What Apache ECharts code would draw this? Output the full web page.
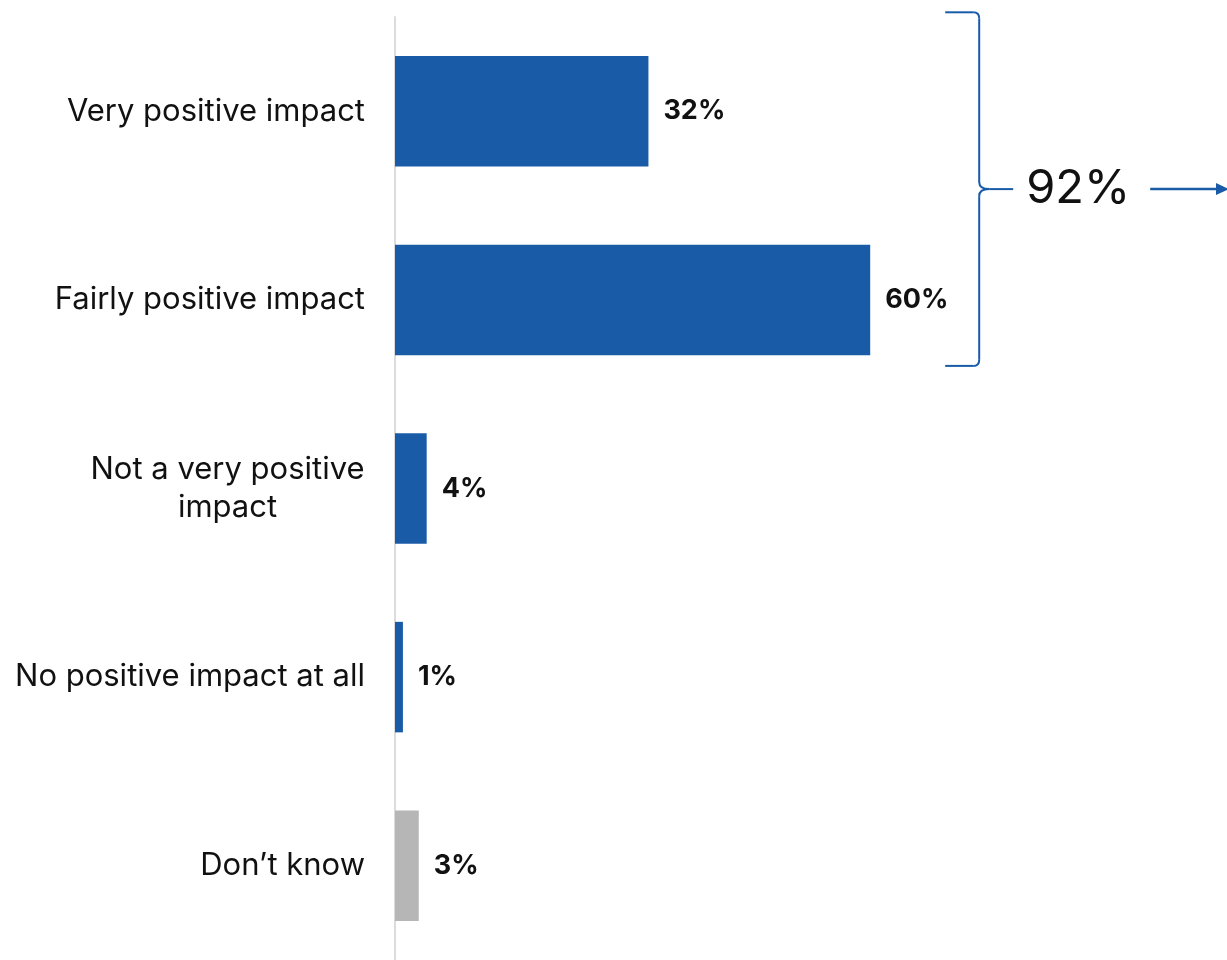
<!DOCTYPE html>
<html>
<head>
<meta charset="utf-8">
<script src="https://cdn.jsdelivr.net/npm/echarts@6/dist/echarts.min.js"></script>
<style>
  html, body { margin: 0; padding: 0; background: #ffffff; }
  #chart { width: 1227px; height: 960px; }
</style>
</head>
<body>
<div id="chart"></div>
<script>
// Survey answers, top to bottom
const categories = [
  'Very positive impact',
  'Fairly positive impact',
  'Not a very positive\nimpact',
  'No positive impact at all',
  'Don\u2019t know'
];
const values = [32, 60, 4, 1, 3];
// answers grouped under the bracket
const groupedIdx = [0, 1];

const BLUE = '#1a5ba8';
const GREY = '#b6b6b6';
const FONT = 'Inter, "Open Sans", sans-serif';

const catFont = 31;
const canvas = document.createElement('canvas');
const ctx = canvas.getContext('2d');
ctx.font = catFont + 'px ' + FONT;

// multi-line labels are centred within their own block, block right-aligned to the axis
function catFormatter(v) {
  const lines = v.split('\n');
  if (lines.length === 1) return v;
  return lines.map(l => '{c|' + l + '}').join('\n');
}
function catRich() {
  let w = 0;
  categories.forEach(c => {
    const ls = c.split('\n');
    if (ls.length > 1) ls.forEach(l => { w = Math.max(w, ctx.measureText(l).width); });
  });
  return { c: { width: Math.ceil(w), align: 'center', fontSize: catFont, fontFamily: FONT, color: '#111', lineHeight: 38 } };
}

const groupTotal = groupedIdx.reduce((s, i) => s + values[i], 0);

const chart = echarts.init(document.getElementById('chart'), null, { renderer: 'canvas' });

chart.setOption({
  animation: false,
  backgroundColor: '#ffffff',
  grid: { left: 395, top: 17, width: 792, height: 947, containLabel: false },
  xAxis: {
    type: 'value', min: 0, max: 100,
    show: false
  },
  yAxis: {
    type: 'category',
    data: categories,
    inverse: true,
    axisLine: { show: true, lineStyle: { color: '#dcdcdc', width: 2 } },
    axisTick: { show: false },
    axisLabel: {
      margin: 30,
      fontSize: catFont,
      fontFamily: FONT,
      color: '#111',
      align: 'right',
      lineHeight: 38,
      formatter: catFormatter,
      rich: catRich()
    }
  },
  series: [{
    type: 'bar',
    data: values.map((v, i) => ({
      value: v,
      itemStyle: { color: i === values.length - 1 ? GREY : BLUE }
    })),
    barWidth: '58.6%',
    label: {
      show: true,
      position: 'right',
      distance: 15,
      formatter: '{c}%',
      fontSize: 27,
      fontWeight: 'bold',
      fontFamily: FONT,
      color: '#111'
    }
  }]
});

// bracket, total and arrow beside the grouped answers
function drawBracket() {
  const b0 = chart.convertToPixel({ yAxisIndex: 0 }, categories[groupedIdx[0]]);
  const b1 = chart.convertToPixel({ yAxisIndex: 0 }, categories[groupedIdx[groupedIdx.length - 1]]);
  const xEnd = chart.convertToPixel({ xAxisIndex: 0 }, Math.max(...groupedIdx.map(i => values[i])));
  const half = 55;
  const top = b0 - half - 44;
  const bot = b1 + half + 11;
  const mid = (top + bot) / 2;
  const xv = xEnd + 109;      // vertical stroke
  const xl = xv - 34;         // end of the arms
  const r = 6;
  const st = { stroke: BLUE, lineWidth: 2, fill: null };
  const seg = (x1, y1, x2, y2) => ({ type: 'line', shape: { x1, y1, x2, y2 }, style: st });
  const curve = (x1, y1, cx, cy, x2, y2) => ({
    type: 'bezierCurve', shape: { x1, y1, cpx1: cx, cpy1: cy, x2, y2 }, style: st
  });
  chart.setOption({
    graphic: [
      seg(xl, top, xv - r, top),
      curve(xv - r, top, xv, top, xv, top + r),
      seg(xv, top + r, xv, mid - 7),
      curve(xv, mid - 7, xv, mid, xv + 10, mid),
      seg(xv + 10, mid, xv + 34, mid),
      curve(xv + 10, mid, xv, mid, xv, mid + 7),
      seg(xv, mid + 7, xv, bot - r),
      curve(xv, bot - r, xv, bot, xv - r, bot),
      seg(xv - r, bot, xl, bot),
      {
        type: 'text',
        x: xv + 47, y: mid,
        style: {
          text: groupTotal + '%',
          fontSize: 47, fontFamily: FONT, fill: '#111',
          verticalAlign: 'middle'
        }
      },
      {
        type: 'line',
        shape: { x1: xv + 171, y1: mid, x2: 1220, y2: mid },
        style: { stroke: BLUE, lineWidth: 2.5 }
      },
      {
        type: 'polygon',
        shape: { points: [[1216, mid - 6], [1229, mid], [1216, mid + 6]] },
        style: { fill: BLUE }
      }
    ]
  });
}
drawBracket();
</script>
</body>
</html>
